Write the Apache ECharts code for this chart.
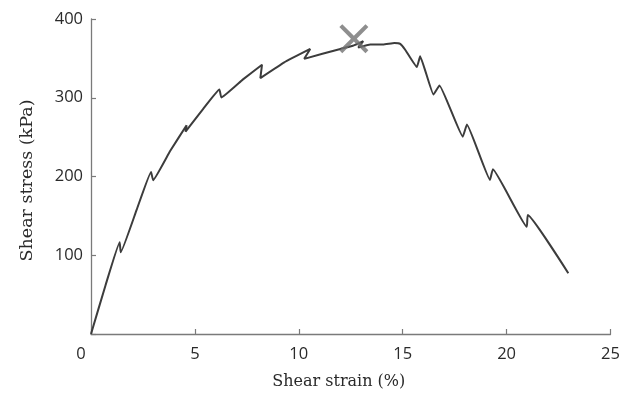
<!DOCTYPE html>
<html>
<head>
<meta charset="utf-8">
<script src="https://cdn.jsdelivr.net/npm/echarts@6/dist/echarts.min.js"></script>
<style>
  html, body { margin: 0; padding: 0; background: #fff; }
  #chart { width: 637px; height: 395px; }
</style>
</head>
<body>
<div id="chart"></div>
<script>
// Stress–strain curve of a direct shear test
const strain = [0, 0.7, 1.38, 1.43, 2.2, 2.89, 2.99, 3.8, 4.6, 4.55, 5.4, 6.18, 6.27, 7.3, 8.23, 8.15,
  9.3, 10.55, 10.26, 12.0, 12.6, 13.1, 12.86, 13.44, 14.06, 14.6, 14.88, 15.12, 15.68, 15.84,
  16.48, 16.77, 17.89, 18.09, 19.2, 19.34, 20.97, 21.02, 22.97];
const stress = [0, 62, 116.5, 103.8, 158, 205.8, 195.3, 232, 265, 257, 286, 310.5, 300.4, 323, 342, 325,
  345, 362, 349.4, 362, 366, 372, 363.7, 367.5, 367.5, 369.5, 368.5, 361, 339, 352.7,
  304, 315.6, 250.6, 266, 195.7, 209.2, 136.2, 151, 77.2];

// Failure point
const failureStrain = 12.65;
const failureStress = 375;

const xTicks = [0, 5, 10, 15, 20, 25];
const yTicks = [100, 200, 300, 400];

const curve = strain.map((s, i) => [s, stress[i]]);

const axisColor = '#7a7a7a';
const textColor = '#2a2a2a';

const chart = echarts.init(document.getElementById('chart'), null, { renderer: 'canvas' });
chart.setOption({
  animation: false,
  grid: { left: 91, right: 26.5, top: 19, bottom: 59.7, containLabel: false },
  xAxis: {
    type: 'value',
    min: xTicks[0],
    max: xTicks[xTicks.length - 1],
    interval: 5,
    name: 'Shear strain (%)',
    nameLocation: 'middle',
    nameGap: 40,
    nameTextStyle: { fontFamily: 'DejaVu Serif', fontSize: 16, color: textColor, padding: [0, 24, 0, 0] },
    axisLine: { show: true, lineStyle: { color: axisColor, width: 1.3 } },
    axisTick: { show: true, inside: true, length: 5, lineStyle: { color: axisColor, width: 1.2 } },
    splitLine: { show: false },
    axisLabel: {
      fontFamily: 'Open Sans', fontSize: 16.5, color: textColor, margin: 12,
      formatter: v => v === 0 ? '{z|0}' : String(v),
      rich: { z: { fontFamily: 'Open Sans', fontSize: 16.5, color: textColor, padding: [0, 20, 0, 0] } }
    }
  },
  yAxis: {
    type: 'value',
    min: 0,
    max: yTicks[yTicks.length - 1],
    interval: 100,
    name: 'Shear stress (kPa)',
    nameLocation: 'middle',
    nameGap: 55,
    nameTextStyle: { fontFamily: 'DejaVu Serif', fontSize: 17.5, color: textColor, padding: [0, 8, 0, 0] },
    axisLine: { show: true, lineStyle: { color: axisColor, width: 1.3 } },
    axisTick: { show: true, inside: true, length: 5, lineStyle: { color: axisColor, width: 1.2 } },
    splitLine: { show: false },
    axisLabel: {
      fontFamily: 'Open Sans', fontSize: 16.5, color: textColor, margin: 8,
      formatter: v => v === 0 ? '' : String(v)
    }
  },
  series: [
    {
      type: 'line',
      data: curve,
      showSymbol: false,
      smooth: 0.1,
      lineStyle: { color: '#3c3c3c', width: 2 },
      z: 2
    },
    {
      type: 'scatter',
      data: [[failureStrain, failureStress]],
      symbol: 'path://M10,0 L50,40 L90,0 L100,10 L60,50 L100,90 L90,100 L50,60 L10,100 L0,90 L40,50 L0,10 Z',
      symbolSize: 29,
      itemStyle: { color: '#727272' },
      z: 3
    }
  ]
});
</script>
</body>
</html>
